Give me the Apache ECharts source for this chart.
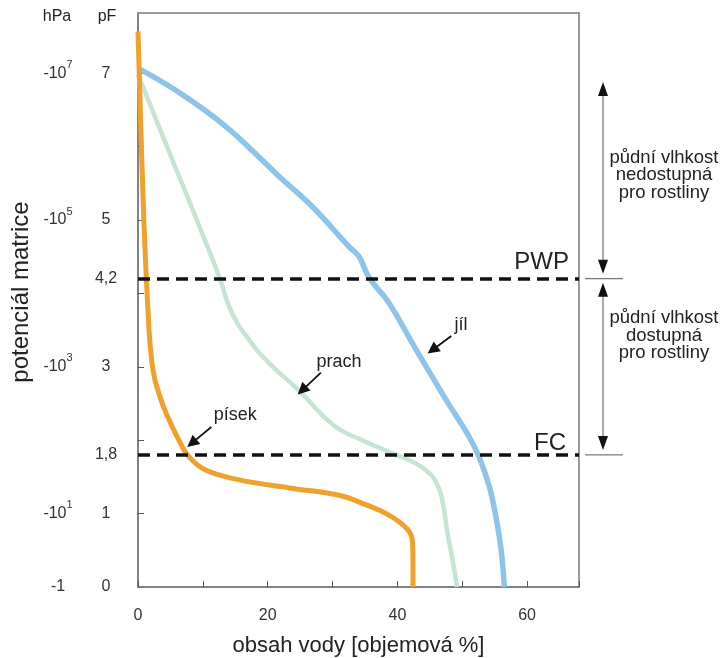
<!DOCTYPE html>
<html>
<head>
<meta charset="utf-8">
<script src="https://cdn.jsdelivr.net/npm/echarts@6/dist/echarts.min.js"></script>
<style>
  html, body { margin: 0; padding: 0; background: #fff; }
  #chart { width: 726px; height: 658px; }
</style>
</head>
<body>
<div id="chart"></div>
<script>
// [obsah vody %, pF]
const pisek = [
  [0, 7.57], [0.9, 5.0], [1.7, 3.5], [2.16, 3.05], [2.62, 2.82], [3.4, 2.59],
  [4.32, 2.37], [6.3, 2.0], [7.9, 1.77], [10.5, 1.59], [15.6, 1.46], [23.3, 1.35],
  [31.0, 1.25], [34.6, 1.14], [38.7, 0.98], [41.4, 0.8], [42.3, 0.64],
  [42.4, 0.37], [42.4, 0]
]
const prach = [
  [0, 6.98], [5.3, 5.82], [9.7, 4.86], [12.5, 4.23], [14.5, 3.73], [17.1, 3.37],
  [20.2, 3.05], [24.8, 2.68], [30.2, 2.2], [34.6, 2.0], [39.8, 1.8], [41.8, 1.73],
  [44.4, 1.59], [46.0, 1.42], [46.9, 1.19], [47.7, 0.74], [48.5, 0.37], [49.2, 0]
]
const jil = [
  [0, 7.07], [6.3, 6.74], [13.6, 6.27], [21.8, 5.59], [26.9, 5.18], [32.6, 4.63],
  [34.1, 4.5], [35.6, 4.22], [38.7, 3.87], [42.9, 3.23], [45.2, 2.89],
  [47.5, 2.55], [51.1, 2.04], [52.6, 1.77], [54.2, 1.36], [55.2, 0.95],
  [56.0, 0.5], [56.5, 0]
]

const pfLabels = [0, 1, 1.8, 3, 4.2, 5, 7]
const pfTicks = [1, 2, 3, 4, 5, 6, 7]
const hpaPos = [0, 1, 3, 5, 7]
const hpaLabels = ['-1', '-10^1', '-10^3', '-10^5', '-10^7']
const xLabels = [0, 20, 40, 60]
const pwp = 4.2
const fc = 1.8

// popisky křivek: [text, pozice textu, začátek šipky, hrot šipky]
const curveNotes = [
  ['jíl', [49.8, 3.57], [48.3, 3.42], [45.4, 3.23]],
  ['prach', [31.0, 3.07], [28.2, 2.92], [25.3, 2.68]],
  ['písek', [15.0, 2.34], [11.3, 2.18], [8.3, 1.96]]
]

const font = 'Liberation Sans, Arial, sans-serif'
const chart = echarts.init(document.getElementById('chart'))

chart.setOption({
  animation: false,
  textStyle: { fontFamily: font },
  grid: {
    left: 138, top: 13, right: 147, bottom: 71,
    outerBoundsMode: 'none', containLabel: false,
    show: true, borderColor: '#7a7a7a', borderWidth: 1.5
  },
  xAxis: {
    type: 'value', min: 0, max: 68, interval: 10,
    name: 'obsah vody [objemová %]',
    nameLocation: 'middle', nameGap: 48,
    nameTextStyle: { fontSize: 22, color: '#222' },
    axisLine: { lineStyle: { color: '#7a7a7a', width: 1.5 } },
    axisTick: { inside: true, length: 6, lineStyle: { color: '#555' } },
    axisLabel: { customValues: xLabels, margin: 21, fontSize: 16, color: '#333' },
    splitLine: { show: false }
  },
  yAxis: [
    {
      type: 'value', min: 0, max: 7.82,
      name: 'potenciál matrice',
      nameLocation: 'middle', nameGap: 105,
      nameTextStyle: { fontSize: 24, color: '#222', padding: [0, 0, 0, 16] },
      axisLine: { show: true, lineStyle: { color: '#7a7a7a', width: 1.5 } },
      axisTick: { inside: true, length: 6, customValues: pfTicks, lineStyle: { color: '#555' } },
      axisLabel: {
        customValues: pfLabels, margin: 32, align: 'center', fontSize: 16, color: '#333',
        formatter: (v) => String(v).replace('.', ',')
      },
      splitLine: { show: false }
    },
    {
      type: 'value', min: 0, max: 7.82, position: 'left',
      axisLine: { show: false },
      axisTick: { show: false },
      axisLabel: {
        customValues: hpaPos, margin: 80, align: 'center', color: '#333',
        formatter: (v) => {
          const t = hpaLabels[hpaPos.indexOf(v)].split('^')
          return t.length > 1 ? '{b|' + t[0] + '}{sup|' + t[1] + '}' : '{b|' + t[0] + '}'
        },
        rich: {
          b: { fontSize: 16, lineHeight: 28, color: '#333', fontFamily: font },
          sup: { fontSize: 11, verticalAlign: 'top', color: '#333', fontFamily: font }
        }
      },
      splitLine: { show: false }
    }
  ],
  series: [
    {
      name: 'jíl', type: 'line', data: jil, smooth: 0.4, showSymbol: false,
      lineStyle: { color: '#8ec4ea', width: 5.5 },
      markLine: {
        silent: true, symbol: 'none',
        label: { show: false },
        lineStyle: { color: '#111', type: [12, 7], width: 3.5 },
        data: [{ yAxis: pwp }, { yAxis: fc }]
      }
    },
    {
      name: 'prach', type: 'line', data: prach, smooth: 0.5, showSymbol: false,
      lineStyle: { color: '#c5e4d1', width: 4.5 },
      markLine: {
        silent: true,
        symbol: ['none', 'triangle'], symbolSize: 12,
        label: { show: false },
        lineStyle: { color: '#111', type: 'solid', width: 1.8 },
        data: curveNotes.map(n => [{ coord: n[2] }, { coord: n[3] }])
      },
      markPoint: {
        silent: true, symbol: 'circle', symbolSize: 0,
        label: { show: true, position: 'inside', fontSize: 18, color: '#222',
          formatter: (p) => p.name },
        data: curveNotes.map(n => ({ name: n[0], coord: n[1] }))
      }
    },
    {
      name: 'písek', type: 'line', data: pisek, smooth: 0.4, showSymbol: false,
      lineStyle: { color: '#f0a02c', width: 5 }
    }
  ]
})

// anotace vpravo od grafu
const xR = chart.convertToPixel({ xAxisIndex: 0 }, 68)
const yP = chart.convertToPixel({ yAxisIndex: 0 }, pwp)
const yF = chart.convertToPixel({ yAxisIndex: 0 }, fc)
const yTop = chart.convertToPixel({ yAxisIndex: 0 }, 6.88)
const ax = xR + 24

function arrow(y1, y2) {
  return [
    { type: 'line', shape: { x1: ax, y1: y1 + 10, x2: ax, y2: y2 - 10 }, style: { stroke: '#555', lineWidth: 1 } },
    { type: 'polygon', shape: { points: [[ax, y1], [ax - 5, y1 + 14], [ax + 5, y1 + 14]] }, style: { fill: '#111' } },
    { type: 'polygon', shape: { points: [[ax, y2], [ax - 5, y2 - 14], [ax + 5, y2 - 14]] }, style: { fill: '#111' } }
  ]
}

const txt = (x, y, text, size, align) => ({
  type: 'text', x: x, y: y,
  style: { text: text, fill: '#222', font: size + 'px ' + font, align: align, verticalAlign: 'middle', lineHeight: 17.5 }
})

chart.setOption({
  graphic: [
    { type: 'line', shape: { x1: xR + 6, y1: yP, x2: xR + 44, y2: yP }, style: { stroke: '#555', lineWidth: 1 } },
    { type: 'line', shape: { x1: xR + 6, y1: yF, x2: xR + 44, y2: yF }, style: { stroke: '#555', lineWidth: 1 } },
    ...arrow(yTop, yP - 5),
    ...arrow(yP + 4, yF - 5),
    txt(xR + 85, 175, 'půdní vlhkost\nnedostupná\npro rostliny', 18.5, 'center'),
    txt(xR + 85, yP + 57, 'půdní vlhkost\ndostupná\npro rostliny', 18.5, 'center'),
    txt(xR - 10, yP - 16, 'PWP', 24, 'right'),
    txt(xR - 13, yF - 12, 'FC', 24, 'right'),
    txt(57, 17, 'hPa', 16, 'center'),
    txt(107, 17, 'pF', 16, 'center')
  ]
})
</script>
</body>
</html>
